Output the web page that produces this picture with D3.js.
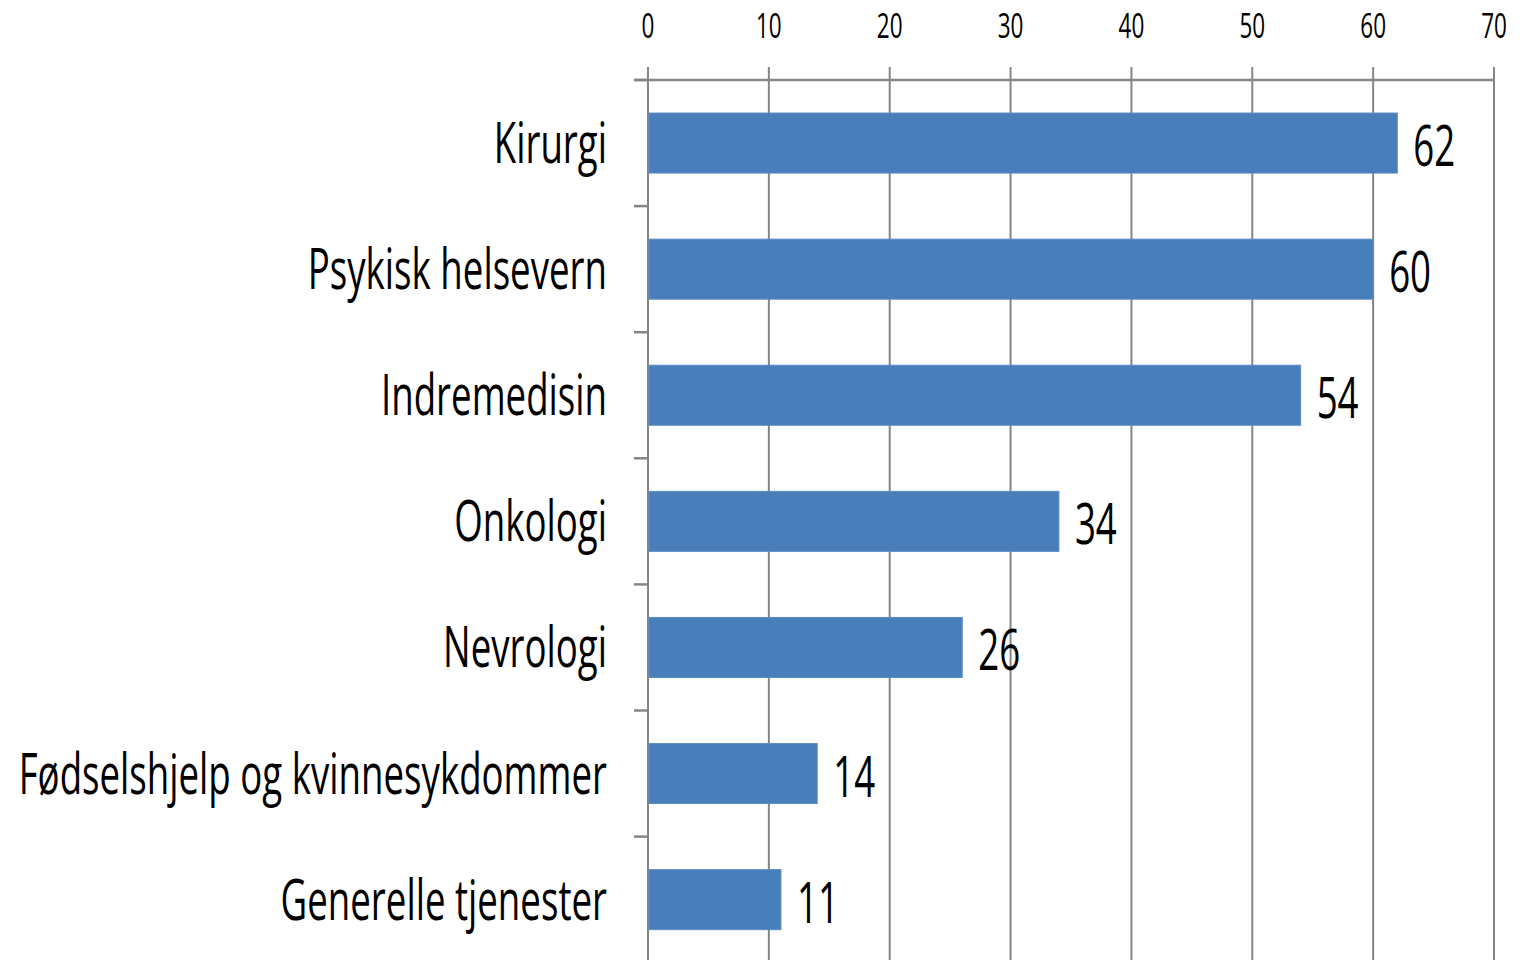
<!DOCTYPE html>
<html>
<head>
<meta charset="utf-8">
<script src="https://cdn.jsdelivr.net/npm/d3@7"></script>
<style>
  html, body { margin: 0; padding: 0; background: #fff; overflow: hidden; }
  svg { display: block; }
  text { font-family: "Open Sans", "Liberation Sans", sans-serif; fill: #000; }
</style>
</head>
<body>
<svg id="chart" width="1534" height="960"></svg>
<script>
const categories = ["Kirurgi", "Psykisk helsevern", "Indremedisin", "Onkologi", "Nevrologi", "Fødselshjelp og kvinnesykdommer", "Generelle tjenester"];
const values = [62, 60, 54, 34, 26, 14, 11];
const xTicks = [0, 10, 20, 30, 40, 50, 60, 70];

const svg = d3.select("#chart");
const W = 1534, H = 960;
const x0 = 648, x1 = 1494, yTop = 80, step = 126.1;
const SX = 0.643; // horizontal text compression (condensed look)

const x = d3.scaleLinear().domain([0, 70]).range([x0, x1]);
const y = d3.scaleBand().domain(categories)
  .range([yTop, yTop + step * categories.length])
  .paddingInner(0.524).paddingOuter(0.262);

const gridColor = "#858585";

// vertical gridlines (incl. value axis ticks above axis line)
svg.append("g").selectAll("line").data(xTicks).join("line")
  .attr("x1", d => x(d)).attr("x2", d => x(d))
  .attr("y1", 67).attr("y2", H + 5)
  .attr("stroke", gridColor).attr("stroke-width", 2);

// top axis line
svg.append("line").attr("x1", 634).attr("x2", x(70))
  .attr("y1", yTop).attr("y2", yTop)
  .attr("stroke", gridColor).attr("stroke-width", 2.5);

// category tick marks at band boundaries
const bounds = d3.range(categories.length + 1).map(i => yTop + i * y.step());
svg.append("g").selectAll("line").data(bounds).join("line")
  .attr("x1", 634).attr("x2", x0)
  .attr("y1", d => d).attr("y2", d => d)
  .attr("stroke", gridColor).attr("stroke-width", 2.5);

// tick labels on top
svg.append("g").selectAll("text").data(xTicks).join("text")
  .attr("transform", d => `translate(${x(d)},38) scale(${SX},1)`)
  .attr("text-anchor", "middle")
  .attr("font-size", 35)
  .text(d => d);

// bars
svg.append("g").selectAll("rect").data(values).join("rect")
  .attr("x", x(0) + 1)
  .attr("y", (d, i) => y(categories[i]))
  .attr("width", d => x(d) - x(0) - 1)
  .attr("height", y.bandwidth())
  .attr("fill", "#4A7EBB")
  .attr("stroke", "#5B8CC8").attr("stroke-width", 1);

// category labels
svg.append("g").selectAll("text").data(categories).join("text")
  .attr("transform", d => `translate(607,${y(d) + y.bandwidth() / 2 + 20}) scale(${SX},1)`)
  .attr("text-anchor", "end")
  .attr("font-size", 57)
  .text(d => d);

// value labels
svg.append("g").selectAll("text").data(values).join("text")
  .attr("transform", (d, i) => `translate(${x(d) + 16},${y(categories[i]) + y.bandwidth() / 2 + 23}) scale(${SX},1)`)
  .attr("text-anchor", "start")
  .attr("font-size", 57)
  .text(d => d);
</script>
</body>
</html>
